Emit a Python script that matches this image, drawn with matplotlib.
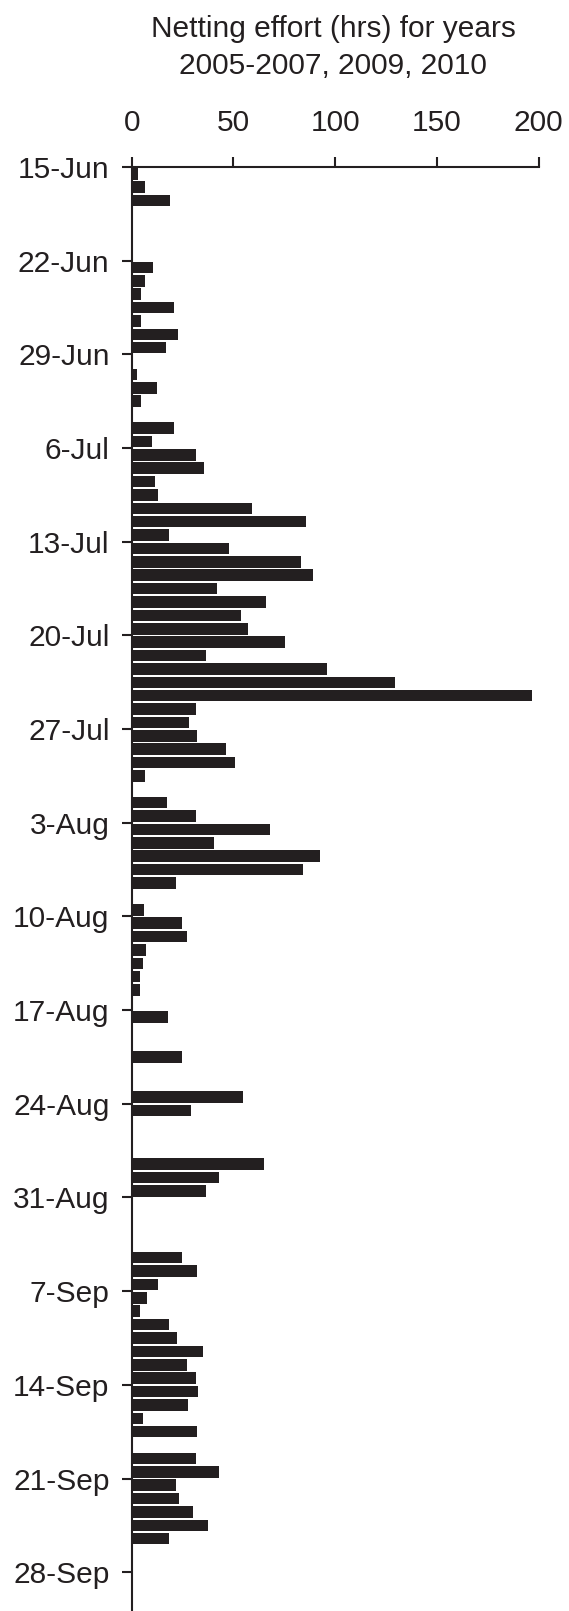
import matplotlib
matplotlib.use("Agg")
import matplotlib.pyplot as plt
import numpy as np

#######################################################################################################
# netting effort (hrs) per day, starting 15-Jun (day 0), years 2005-2007, 2009, 2010
effort_hrs = [
	3, 6.7, 18.6, 0, 0, 0, 0,                 # 15-Jun .. 21-Jun
	10.7, 6.7, 4.6, 20.7, 4.6, 22.8, 16.7,     # 22-Jun .. 28-Jun
	0, 2.8, 12.6, 4.6, 0, 20.7, 9.9,           # 29-Jun .. 5-Jul
	31.4, 35.3, 11.3, 12.8, 59.3, 85.5, 18.4,  # 6-Jul .. 12-Jul
	47.8, 83.1, 89.2, 42.0, 65.8, 53.5, 57.0,  # 13-Jul .. 19-Jul
	75.2, 36.6, 95.9, 129.6, 196.7, 31.7, 28.4,  # 20-Jul .. 26-Jul
	32.2, 46.3, 50.7, 6.7, 0, 17.4, 31.4,      # 27-Jul .. 2-Aug
	67.8, 40.6, 92.8, 84.1, 21.7, 0, 6.2,      # 3-Aug .. 9-Aug
	24.8, 27.1, 7.1, 5.3, 4.3, 4.3, 0,         # 10-Aug .. 16-Aug
	17.7, 0, 0, 24.8, 0, 0, 54.7,              # 17-Aug .. 23-Aug
	28.9, 0, 0, 0, 65.0, 42.9, 36.3,           # 24-Aug .. 30-Aug
	0, 0, 0, 0, 24.8, 32.3, 13.1,              # 31-Aug .. 6-Sep
	7.7, 4.3, 18.4, 22.5, 34.8, 27.1, 31.7,    # 7-Sep .. 13-Sep
	32.5, 27.8, 5.7, 32.2, 0, 31.7, 42.9,      # 14-Sep .. 20-Sep
	21.7, 23.0, 29.9, 37.4, 18.1,              # 21-Sep .. 25-Sep
]

date_labels = ['15-Jun', '22-Jun', '29-Jun', '6-Jul', '13-Jul', '20-Jul', '27-Jul', '3-Aug',
	'10-Aug', '17-Aug', '24-Aug', '31-Aug', '7-Sep', '14-Sep', '21-Sep', '28-Sep']
x_ticks = [0, 50, 100, 150, 200]

title_lines = ["Netting effort (hrs) for years", "2005-2007, 2009, 2010"]


def handler():

	plt.rcParams['font.family'] = ['Liberation Sans', 'DejaVu Sans']

	fig = plt.figure(figsize=(5.69, 16.11), dpi=100)
	ax = fig.add_axes([0.2315, 0.0, 0.715, 0.8963])

	days = np.arange(len(effort_hrs))
	ax.barh(days + 0.5, effort_hrs, height=0.86, color='#231f20', linewidth=0)

	######### axes #######
	ax.set_xlim(0, 200)
	ax.set_ylim(107.9, 0)
	ax.xaxis.tick_top()
	ax.set_xticks(x_ticks)
	ax.set_xticklabels([str(t) for t in x_ticks])
	ax.set_yticks(np.arange(len(date_labels)) * 7)
	ax.set_yticklabels(date_labels)

	for side in ['right', 'bottom']:
		ax.spines[side].set_visible(False)
	for side in ['left', 'top']:
		ax.spines[side].set_linewidth(1.5)
		ax.spines[side].set_color('#231f20')

	ax.tick_params(axis='x', direction='out', length=7.5, width=1.5, pad=14,
		labelsize=21.5, colors='#231f20')
	ax.tick_params(axis='y', direction='out', length=7, width=1.5, pad=9,
		labelsize=21.5, colors='#231f20')

	# two title lines, placed by their baselines
	fig.text(0.586, 1 - 37.3 / 1611, title_lines[0], ha='center', va='baseline',
		fontsize=21.5, color='#231f20')
	fig.text(0.586, 1 - 74.3 / 1611, title_lines[1], ha='center', va='baseline',
		fontsize=21.5, color='#231f20')

	fig.savefig("out.png", dpi=100)


if __name__ == "__main__":
	handler()
